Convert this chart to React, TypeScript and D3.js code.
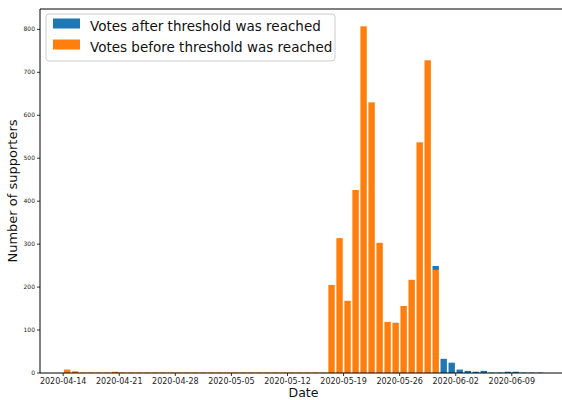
import React from 'react';
import * as d3 from 'd3';

// one entry per day, 2020-04-14 .. 2020-06-12
const dates = [
  '2020-04-14', '2020-04-15', '2020-04-16', '2020-04-17', '2020-04-18', '2020-04-19', '2020-04-20',
  '2020-04-21', '2020-04-22', '2020-04-23', '2020-04-24', '2020-04-25', '2020-04-26', '2020-04-27',
  '2020-04-28', '2020-04-29', '2020-04-30', '2020-05-01', '2020-05-02', '2020-05-03', '2020-05-04',
  '2020-05-05', '2020-05-06', '2020-05-07', '2020-05-08', '2020-05-09', '2020-05-10', '2020-05-11',
  '2020-05-12', '2020-05-13', '2020-05-14', '2020-05-15', '2020-05-16', '2020-05-17', '2020-05-18',
  '2020-05-19', '2020-05-20', '2020-05-21', '2020-05-22', '2020-05-23', '2020-05-24', '2020-05-25',
  '2020-05-26', '2020-05-27', '2020-05-28', '2020-05-29', '2020-05-30', '2020-05-31', '2020-06-01',
  '2020-06-02', '2020-06-03', '2020-06-04', '2020-06-05', '2020-06-06', '2020-06-07', '2020-06-08',
  '2020-06-09', '2020-06-10', '2020-06-11', '2020-06-12',
];

const votesBefore = [
  8, 4, 1, 1, 1, 1, 3,
  1, 1, 1, 1, 1, 1, 1,
  1, 1, 1, 1, 1, 1, 1,
  1, 1, 1, 1, 1, 1, 1,
  1, 1, 1, 1, 1, 205, 314,
  168, 426, 807, 630, 303, 119, 117,
  156, 217, 537, 728, 240, 0, 0,
  0, 0, 0, 0, 0, 0, 0,
  0, 0, 0, 0,
];

const votesAfter = [
  0, 0, 0, 0, 0, 0, 0,
  0, 0, 0, 0, 0, 0, 0,
  0, 0, 0, 0, 0, 0, 0,
  0, 0, 0, 0, 0, 0, 0,
  0, 0, 0, 0, 0, 0, 0,
  0, 0, 0, 0, 0, 0, 0,
  0, 0, 0, 0, 9, 33, 24,
  8, 5, 3, 5, 1, 1, 3,
  3, 1, 1, 1,
];

const xTicks = ['2020-04-14', '2020-04-21', '2020-04-28', '2020-05-05', '2020-05-12', '2020-05-19', '2020-05-26', '2020-06-02', '2020-06-09'];
const yTicks = [0, 100, 200, 300, 400, 500, 600, 700, 800];

const BLUE = '#1f77b4';
const ORANGE = '#ff7f0e';

const W = 562;
const H = 400;
const left = 40;
const right = 567;
const top = 9;
const bottom = 373;

const parse = d3.utcParse('%Y-%m-%d');
const DAY = 86400000;

export default function App() {
  const days = dates.map(d => parse(d) as Date);
  // bars sit at noon, 0.8 day wide; matplotlib-like 5% padding
  const lo = days[0].getTime() + 0.1 * DAY;
  const hi = days[days.length - 1].getTime() + 0.9 * DAY;
  const pad = (hi - lo) * 0.05;
  const x = d3.scaleUtc().domain([new Date(lo - pad), new Date(hi + pad)]).range([left, right]);

  const totals = dates.map((_, i) => votesBefore[i] + votesAfter[i]);
  const yMax = (d3.max(totals) as number) * 1.05;
  const y = d3.scaleLinear().domain([0, yMax]).range([bottom, top]);

  const barW = x(new Date(lo + 0.8 * DAY)) - x(new Date(lo));
  const barX = (d: Date) => x(new Date(d.getTime() + 0.1 * DAY));

  const font = 'DejaVu Sans, sans-serif';

  return (
    <svg width={W} height={H} style={{ position: 'absolute', left: 0, top: 0 }} fontFamily={font}>
      <rect width={W} height={H} fill="white" />
      <g>
        {days.map((d, i) => votesBefore[i] > 0 && (
          <rect key={'b' + i} x={barX(d)} width={barW} y={y(votesBefore[i])} height={y(0) - y(votesBefore[i])} fill={ORANGE} />
        ))}
        {days.map((d, i) => votesAfter[i] > 0 && (
          <rect key={'a' + i} x={barX(d)} width={barW} y={y(votesBefore[i] + votesAfter[i])} height={y(votesBefore[i]) - y(votesBefore[i] + votesAfter[i])} fill={BLUE} />
        ))}
      </g>

      {/* spines */}
      <line x1={left} x2={left} y1={top} y2={bottom} stroke="black" strokeWidth={1} />
      <line x1={left} x2={right} y1={top} y2={top} stroke="black" strokeWidth={1} />
      <line x1={left} x2={right} y1={bottom} y2={bottom} stroke="black" strokeWidth={1} />

      {/* y axis */}
      {yTicks.map(t => (
        <g key={'y' + t} transform={`translate(${left},${y(t)})`}>
          <line x1={-3} x2={0} stroke="black" strokeWidth={0.8} />
          <text x={-5} dy="0.32em" textAnchor="end" fontSize={6} fill="#222">{t}</text>
        </g>
      ))}

      {/* x axis */}
      {xTicks.map(t => {
        const px = x(parse(t) as Date);
        return (
          <g key={'x' + t} transform={`translate(${px},${bottom})`}>
            <line y1={0} y2={3} stroke="black" strokeWidth={0.8} />
            <text y={10.8} textAnchor="middle" fontSize={8} fill="#222">{t}</text>
          </g>
        );
      })}

      <text x={(left + right) / 2} y={397} textAnchor="middle" fontSize={12.5} fill="#111">Date</text>
      <text transform={`translate(17,${(top + bottom) / 2}) rotate(-90)`} textAnchor="middle" fontSize={13} fill="#111">Number of supporters</text>

      {/* legend */}
      <g transform="translate(46,14)">
        <rect x={0} y={0} width={289} height={47} rx={3} fill="white" fillOpacity={0.8} stroke="#cccccc" strokeWidth={1} />
        <rect x={7} y={4.5} width={27} height={10} fill={BLUE} />
        <text x={44} y={16.5} fontSize={13.5} fill="#111">Votes after threshold was reached</text>
        <rect x={7} y={25.5} width={27} height={10} fill={ORANGE} />
        <text x={44} y={37.5} fontSize={13.5} fill="#111">Votes before threshold was reached</text>
      </g>
    </svg>
  );
}
